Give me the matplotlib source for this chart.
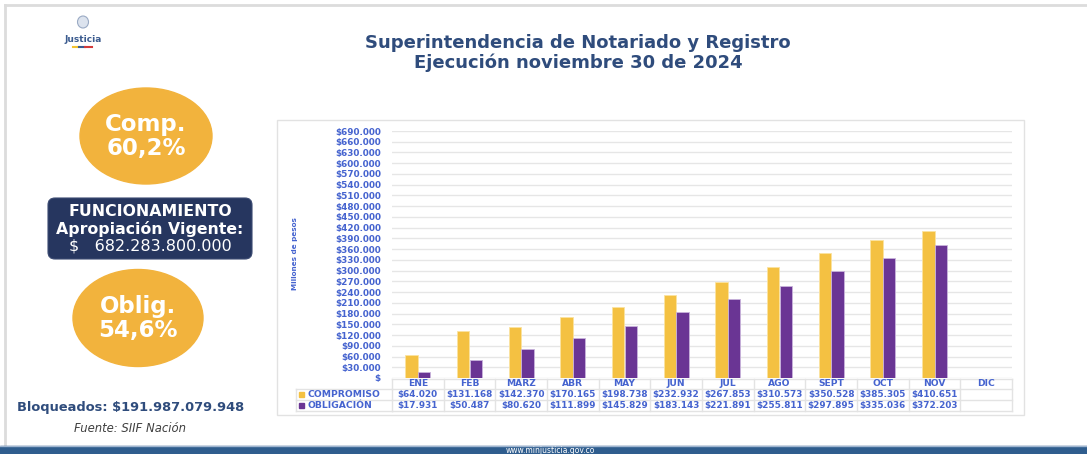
import numpy as np
import matplotlib
matplotlib.use("Agg")
from matplotlib import pyplot as plt
from matplotlib.patches import Ellipse, FancyBboxPatch, Rectangle
from matplotlib.transforms import blended_transform_factory

# datos (millones de pesos)
meses = ['ENE', 'FEB', 'MARZ', 'ABR', 'MAY', 'JUN', 'JUL', 'AGO', 'SEPT', 'OCT', 'NOV', 'DIC']
compromiso = [64020, 131168, 142370, 170165, 198738, 232932, 267853, 310573, 350528, 385305, 410651]
obligacion = [17931, 50487, 80620, 111899, 145829, 183143, 221891, 255811, 297895, 335036, 372203]
series = ['COMPROMISO', 'OBLIGACIÓN']
pct_comp = '60,2%'
pct_oblig = '54,6%'
apropiacion = '682.283.800.000'
bloqueados = '$191.987.079.948'

W, H = 1087, 454
amarillo = '#F4C142'
morado = '#6A3594'
naranja = '#F2B33D'
azul_txt = '#4563CF'
azul_tit = '#2F4C7C'
navy = '#26365F'

fig = plt.figure(figsize=(W / 100, H / 100), dpi=100)
fig.patch.set_facecolor('white')

# capa de fondo en pixeles
bg = fig.add_axes([0, 0, 1, 1])
bg.set_xlim(0, W)
bg.set_ylim(H, 0)
bg.axis('off')

# marco de pagina
bg.plot([5, W], [5, 5], color='#DCDCDC', lw=2)
bg.plot([5, 5], [5, 446], color='#DCDCDC', lw=2)

# banda inferior
bg.add_patch(Rectangle((0, 446), W, 8, color='#2F5D8E', zorder=2))
bg.plot([0, W], [446, 446], color='#9FB5D0', lw=1, zorder=3)
bg.text(550, 450.3, 'www.minjusticia.gov.co', color='white', fontsize=5.5,
        ha='center', va='center', zorder=4)

# logo
bg.add_patch(Ellipse((83, 22), 11, 12, fc='#DCE3EE', ec='#9AAAC4', lw=0.8))
bg.text(83, 40, 'Justicia', color='#3B5B8F', fontsize=6.5, fontweight='bold',
        ha='center', va='center')
bg.plot([73, 79], [47, 47], color='#F2C230', lw=1.5)
bg.plot([79, 85], [47, 47], color='#3B5B8F', lw=1.5)
bg.plot([85, 92], [47, 47], color='#D23A3A', lw=1.5)

# titulo
bg.text(578, 43, 'Superintendencia de Notariado y Registro', color=azul_tit,
        fontsize=13, fontweight='bold', ha='center', va='center')
bg.text(578, 63, 'Ejecución noviembre 30 de 2024', color=azul_tit,
        fontsize=13, fontweight='bold', ha='center', va='center')

# circulos
bg.add_patch(Ellipse((146, 136), 132, 96, color=naranja))
bg.text(146, 124, 'Comp.', color='white', fontsize=16.5, fontweight='bold', ha='center', va='center')
bg.text(146, 149, pct_comp, color='white', fontsize=16.5, fontweight='bold', ha='center', va='center')

bg.add_patch(Ellipse((138, 318), 130, 97, color=naranja))
bg.text(138, 307, 'Oblig.', color='white', fontsize=16.5, fontweight='bold', ha='center', va='center')
bg.text(138, 331, pct_oblig, color='white', fontsize=16.5, fontweight='bold', ha='center', va='center')

# caja funcionamiento
bg.add_patch(FancyBboxPatch((48, 198), 204, 61, boxstyle='round,pad=0,rounding_size=7',
                            fc=navy, ec='#3B4A72', lw=0.8))
bg.text(150, 212, 'FUNCIONAMIENTO', color='white', fontsize=11.3, fontweight='bold', ha='center', va='center')
bg.text(150, 229, 'Apropiación Vigente:', color='white', fontsize=11.3, fontweight='bold', ha='center', va='center')
bg.text(150, 246, '$   ' + apropiacion, color='white', fontsize=11.5, ha='center', va='center')

# bloqueados y fuente
bg.text(17, 408, 'Bloqueados: ' + bloqueados, color=azul_tit, fontsize=9.4, fontweight='bold',
        ha='left', va='center')
bg.text(74, 429, 'Fuente: SIIF Nación', color='#404040', fontsize=8.4, style='italic',
        ha='left', va='center')

# panel del grafico
bg.add_patch(Rectangle((277, 120), 747, 295, fc='white', ec='#E2E2E2', lw=1))

# grafico de barras
ax = fig.add_axes([392 / W, (H - 378) / H, 620 / W, 247 / H])
ax.set_facecolor('none')
x = np.arange(len(compromiso))
w = 0.24
ax.bar(x - w / 2, compromiso, width=w, color=amarillo, edgecolor='#FBE3A0', lw=0.6, zorder=3)
ax.bar(x + w / 2, obligacion, width=w, color=morado, edgecolor='#C9B4DC', lw=0.6, zorder=3)
ax.set_xlim(-0.5, len(meses) - 0.5)
ax.set_ylim(0, 690000)
ticks = np.arange(0, 690001, 30000)
ax.set_yticks(ticks)
ax.set_yticklabels(['$' if t == 0 else '$' + f'{t:,.0f}'.replace(',', '.') for t in ticks])
ax.tick_params(axis='y', length=0, pad=8, labelsize=6.4, labelcolor=azul_txt)
for lab in ax.get_yticklabels():
    lab.set_fontweight('bold')
ax.set_xticks([])
ax.grid(axis='y', color='#E6E6E6', lw=1, zorder=0)
for s in ax.spines.values():
    s.set_visible(False)

bg.text(295, 254, 'Millones de pesos', rotation=90, color=azul_txt, fontsize=5.2,
        fontweight='bold', ha='center', va='center')

# tabla de datos
tr = blended_transform_factory(ax.transData, bg.transData)
lc = '#E3E3E3'
ncol = len(meses)
ax.plot([-0.5, ncol - 0.5], [379, 379], color=lc, lw=1, transform=tr, clip_on=False)
for yy in [389, 400, 411]:
    ax.plot([-0.5, ncol - 0.5], [yy, yy], color=lc, lw=1, transform=tr, clip_on=False)
    bg.plot([296, 392], [yy, yy], color=lc, lw=1)
bg.plot([296, 296], [389, 411], color=lc, lw=1)
for k in range(ncol + 1):
    ax.plot([k - 0.5, k - 0.5], [379, 411], color=lc, lw=1, transform=tr, clip_on=False)

for i, m in enumerate(meses):
    ax.text(i, 384, m, transform=tr, ha='center', va='center', fontsize=6.6,
            fontweight='bold', color=azul_txt)
for i in range(len(compromiso)):
    ax.text(i, 394.5, '$' + f'{compromiso[i]:,.0f}'.replace(',', '.'), transform=tr,
            ha='center', va='center', fontsize=6.4, fontweight='bold', color=azul_txt)
    ax.text(i, 405.5, '$' + f'{obligacion[i]:,.0f}'.replace(',', '.'), transform=tr,
            ha='center', va='center', fontsize=6.4, fontweight='bold', color=azul_txt)

bg.add_patch(Rectangle((299, 392), 5, 5, color=amarillo))
bg.add_patch(Rectangle((299, 403), 5, 5, color=morado))
bg.text(307, 394.5, series[0], color=azul_txt, fontsize=6.7, fontweight='bold', ha='left', va='center')
bg.text(307, 405.5, series[1], color=azul_txt, fontsize=6.7, fontweight='bold', ha='left', va='center')

fig.savefig('out.png', dpi=100)
